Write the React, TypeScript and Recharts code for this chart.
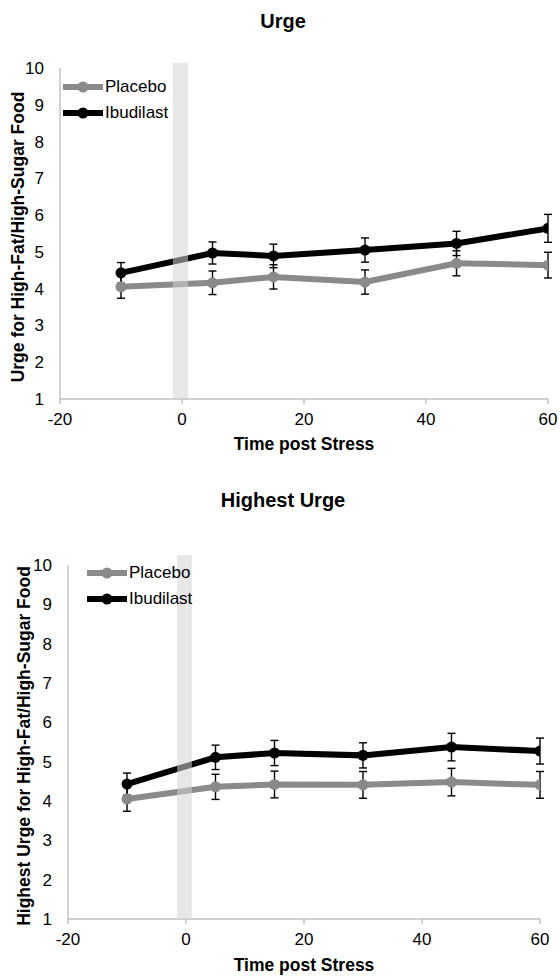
import React from 'react';
import { LineChart, Line, XAxis, YAxis, ErrorBar, ReferenceArea } from 'recharts';

const times = [-10, 5, 15, 30, 45, 60];
const xTicks = [-20, 0, 20, 40, 60];
const yTicks = [1, 2, 3, 4, 5, 6, 7, 8, 9, 10];

const urgePlacebo = [4.05, 4.16, 4.32, 4.18, 4.69, 4.64];
const urgePlaceboErr = [0.31, 0.32, 0.33, 0.33, 0.34, 0.35];
const urgeIbudilast = [4.43, 4.97, 4.89, 5.05, 5.23, 5.64];
const urgeIbudilastErr = [0.28, 0.3, 0.32, 0.33, 0.33, 0.38];

const highPlacebo = [4.05, 4.36, 4.42, 4.41, 4.48, 4.41];
const highPlaceboErr = [0.31, 0.32, 0.34, 0.34, 0.35, 0.34];
const highIbudilast = [4.43, 5.11, 5.22, 5.16, 5.37, 5.27];
const highIbudilastErr = [0.28, 0.31, 0.32, 0.32, 0.35, 0.33];

const seriesNames = ['Placebo', 'Ibudilast'];
const seriesColors = ['#8a8a8a', '#000000'];
const stressWindow = [-1.5, 1.0];

const FONT = '"Liberation Sans", Arial, sans-serif';

function buildRows(p: number[], pe: number[], b: number[], be: number[]) {
  return times.map((t, i) => ({ t, placebo: p[i], placeboErr: pe[i], ibudilast: b[i], ibudilastErr: be[i] }));
}

const LegendBox = ({ left, top }: { left: number; top: number }) => (
  <div style={{ position: 'absolute', left, top, fontFamily: FONT, fontSize: 17, color: '#000', lineHeight: '26px' }}>
    {seriesNames.map((n, i) => (
      <div key={n} style={{ display: 'flex', alignItems: 'center' }}>
        <svg width={40} height={14} style={{ marginRight: 2 }}>
          <line x1={0} y1={7} x2={40} y2={7} stroke={seriesColors[i]} strokeWidth={6} strokeLinecap="round" />
          <circle cx={20} cy={7} r={5.5} fill={seriesColors[i]} />
        </svg>
        <span>{n}</span>
      </div>
    ))}
  </div>
);

type PanelProps = {
  top: number;
  height: number;
  margin: { top: number; right: number; left: number; bottom: number };
  xAxisHeight: number;
  rows: any[];
  bandTop: number;
};

const Panel = ({ top, height, margin, xAxisHeight, rows, bandTop }: PanelProps) => (
  <div style={{ position: 'absolute', left: 0, top, width: 560, height }}>
    <LineChart width={560} height={height} data={rows} margin={margin}>
      <XAxis
        dataKey="t"
        type="number"
        domain={[-20, 60]}
        ticks={xTicks}
        height={xAxisHeight}
        stroke="#a6a6a6"
        tickSize={5}
        tickMargin={9}
        tick={{ fill: '#000', fontSize: 17, fontFamily: FONT }}
        allowDataOverflow
      />
      <YAxis
        type="number"
        domain={[1, 10]}
        ticks={yTicks}
        width={35}
        stroke="#a6a6a6"
        tickLine={false}
        tickSize={8}
        tickMargin={8}
        tick={{ fill: '#000', fontSize: 17, fontFamily: FONT }}
        interval={0}
      />
      <Line
        dataKey="placebo"
        name={seriesNames[0]}
        stroke={seriesColors[0]}
        strokeWidth={6}
        dot={{ r: 5.5, fill: seriesColors[0], stroke: seriesColors[0], strokeWidth: 0 }}
        isAnimationActive={false}
      >
        <ErrorBar dataKey="placeboErr" direction="y" width={4} stroke="#000" strokeWidth={1.4} isAnimationActive={false} />
      </Line>
      <Line
        dataKey="ibudilast"
        name={seriesNames[1]}
        stroke={seriesColors[1]}
        strokeWidth={6}
        dot={{ r: 5.5, fill: seriesColors[1], stroke: seriesColors[1], strokeWidth: 0 }}
        isAnimationActive={false}
      >
        <ErrorBar dataKey="ibudilastErr" direction="y" width={4} stroke="#000" strokeWidth={1.4} isAnimationActive={false} />
      </Line>
      <ReferenceArea
        x1={stressWindow[0]}
        x2={stressWindow[1]}
        y1={1}
        y2={bandTop}
        fill="#d4d4d4"
        fillOpacity={0.55}
        stroke="none"
        ifOverflow="visible"
        zIndex={1000}
      />
    </LineChart>
  </div>
);

const title = (text: string, cy: number) => (
  <div
    style={{
      position: 'absolute', left: 283, top: cy, transform: 'translate(-50%, -50%)',
      fontFamily: FONT, fontWeight: 'bold', fontSize: 20, whiteSpace: 'nowrap', color: '#000',
    }}
  >
    {text}
  </div>
);

const xLabel = (text: string, cx: number, cy: number) => (
  <div
    style={{
      position: 'absolute', left: cx, top: cy, transform: 'translate(-50%, -50%)',
      fontFamily: FONT, fontWeight: 'bold', fontSize: 17.5, whiteSpace: 'nowrap', color: '#000',
    }}
  >
    {text}
  </div>
);

const yLabel = (text: string, cx: number, cy: number) => (
  <div
    style={{
      position: 'absolute', left: cx, top: cy, transform: 'translate(-50%, -50%) rotate(-90deg)',
      fontFamily: FONT, fontWeight: 'bold', fontSize: 17.5, whiteSpace: 'nowrap', color: '#000',
    }}
  >
    {text}
  </div>
);

export default function App() {
  const urgeRows = buildRows(urgePlacebo, urgePlaceboErr, urgeIbudilast, urgeIbudilastErr);
  const highRows = buildRows(highPlacebo, highPlaceboErr, highIbudilast, highIbudilastErr);
  return (
    <div style={{ position: 'absolute', left: 0, top: 0, width: 560, height: 977, background: '#fff', overflow: 'hidden' }}>
      {title('Urge', 21)}
      <Panel
        top={0}
        height={460}
        margin={{ top: 68, right: 12, left: 25, bottom: 6 }}
        xAxisHeight={55}
        rows={urgeRows}
        bandTop={10.14}
      />
      <LegendBox left={63} top={74} />
      {xLabel('Time post Stress', 304, 444)}
      {yLabel('Urge for High-Fat/High-Sugar Food', 18, 237)}

      {title('Highest Urge', 500)}
      <Panel
        top={500}
        height={477}
        margin={{ top: 65, right: 20, left: 33, bottom: 6 }}
        xAxisHeight={52}
        rows={highRows}
        bandTop={10.25}
      />
      <LegendBox left={87} top={560} />
      {xLabel('Time post Stress', 304, 965)}
      {yLabel('Highest Urge for High-Fat/High-Sugar Food', 24, 746)}
    </div>
  );
}
